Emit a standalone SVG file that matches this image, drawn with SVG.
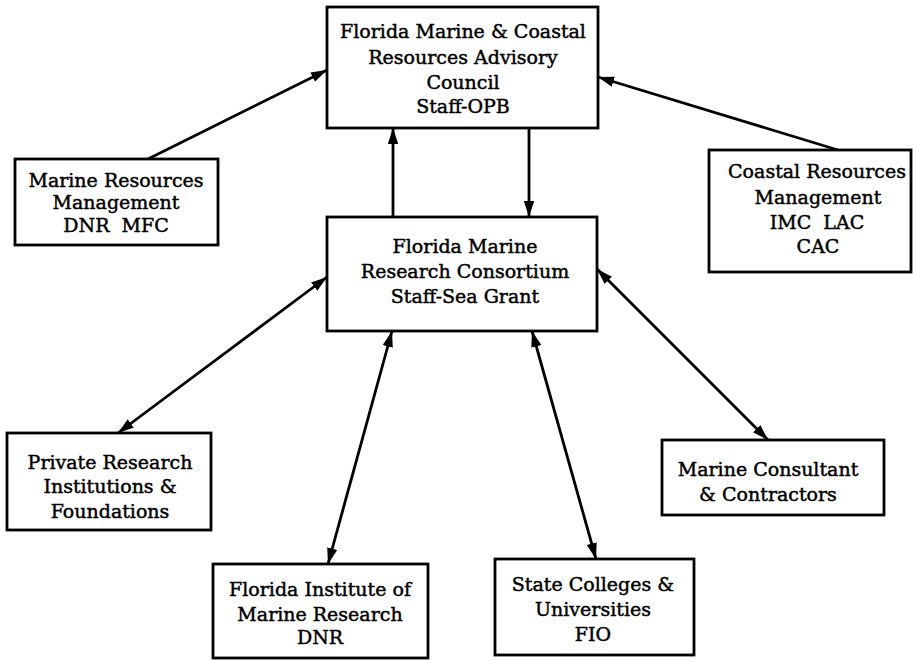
<svg xmlns="http://www.w3.org/2000/svg" width="913" height="661" viewBox="0 0 913 661">
<style>
.box{fill:#fff;stroke:#000;stroke-width:2.8}
.t{font-family:"DejaVu Serif","Liberation Serif",serif;font-size:19px;fill:#000;stroke:#000;stroke-width:0.45;text-anchor:middle}
.c{stroke:#000;stroke-width:2.8;fill:none}
</style>
<defs>
<marker id="ah" markerUnits="userSpaceOnUse" markerWidth="18" markerHeight="12" refX="16" refY="6" orient="auto-start-reverse">
<path d="M0,0.8 L16,6 L0,11.2 z" fill="#000"/>
</marker>
</defs>
<rect width="913" height="661" fill="#fff"/>
<g id="connectors">
<line class="c" x1="148" y1="159" x2="327" y2="70" marker-end="url(#ah)"/>
<line class="c" x1="838" y1="150" x2="598" y2="77" marker-end="url(#ah)"/>
<line class="c" x1="393" y1="217" x2="393" y2="128" marker-end="url(#ah)"/>
<line class="c" x1="529" y1="128" x2="529" y2="217" marker-end="url(#ah)"/>
<line class="c" x1="327" y1="277" x2="118" y2="433" marker-start="url(#ah)" marker-end="url(#ah)"/>
<line class="c" x1="392" y1="331" x2="328" y2="564" marker-start="url(#ah)" marker-end="url(#ah)"/>
<line class="c" x1="532" y1="331" x2="596" y2="559" marker-start="url(#ah)" marker-end="url(#ah)"/>
<line class="c" x1="597" y1="269" x2="768" y2="440" marker-start="url(#ah)" marker-end="url(#ah)"/>
</g>
<g id="advisory">
<rect class="box" x="327" y="7" width="271" height="121"/>
<text class="t" x="463" y="38">Florida Marine &amp; Coastal</text>
<text class="t" x="463" y="64">Resources Advisory</text>
<text class="t" x="463" y="89">Council</text>
<text class="t" x="463" y="113">Staff-OPB</text>
</g>
<g id="consortium">
<rect class="box" x="327" y="217" width="270" height="114"/>
<text class="t" x="465" y="253">Florida Marine</text>
<text class="t" x="465" y="278">Research Consortium</text>
<text class="t" x="465" y="303">Staff-Sea Grant</text>
</g>
<g id="marine-resources">
<rect class="box" x="15" y="159" width="203" height="86"/>
<text class="t" x="116" y="187">Marine Resources</text>
<text class="t" x="116" y="209">Management</text>
<text class="t" x="116" y="232" xml:space="preserve">DNR  MFC</text>
</g>
<g id="coastal-resources">
<rect class="box" x="709" y="150" width="202" height="122"/>
<text class="t" x="817" y="178">Coastal Resources</text>
<text class="t" x="818" y="204">Management</text>
<text class="t" x="817" y="229" xml:space="preserve">IMC  LAC</text>
<text class="t" x="818" y="253">CAC</text>
</g>
<g id="private-research">
<rect class="box" x="7" y="433" width="204" height="97"/>
<text class="t" x="110" y="469">Private Research</text>
<text class="t" x="110" y="493">Institutions &amp;</text>
<text class="t" x="110" y="518">Foundations</text>
</g>
<g id="institute">
<rect class="box" x="213" y="564" width="215" height="94"/>
<text class="t" x="320" y="596">Florida Institute of</text>
<text class="t" x="320" y="621">Marine Research</text>
<text class="t" x="320" y="644">DNR</text>
</g>
<g id="state-colleges">
<rect class="box" x="495" y="559" width="199" height="96"/>
<text class="t" x="593" y="591">State Colleges &amp;</text>
<text class="t" x="593" y="616">Universities</text>
<text class="t" x="593" y="641">FIO</text>
</g>
<g id="consultant">
<rect class="box" x="662" y="440" width="222" height="75"/>
<text class="t" x="768" y="476">Marine Consultant</text>
<text class="t" x="768" y="501">&amp; Contractors</text>
</g>
</svg>
